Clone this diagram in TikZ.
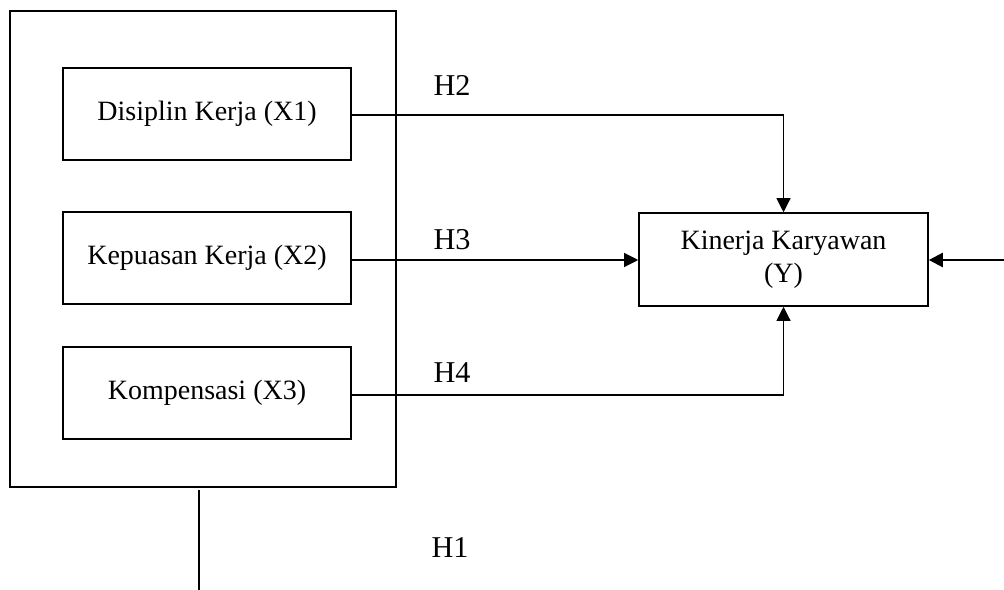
\documentclass[tikz,border=0pt]{standalone}
\usepackage{fontspec}
\setmainfont{Liberation Serif}
\usetikzlibrary{arrows.meta}

\def\px{0.025cm}
\tikzset{
  varbox/.style={draw, line width=1.1pt, minimum width=288*\px, minimum height=92*\px,
    inner sep=0pt, font=\fontsize{19.9}{24}\selectfont},
  hlabel/.style={font=\fontsize{21.5}{26}\selectfont, inner sep=0pt},
  link/.style={line width=0.8pt, -{Triangle[length=10pt,width=10pt]}}
}

\begin{document}
\begin{tikzpicture}[x=\px, y=-\px]
\useasboundingbox (0,0) rectangle (1004,590);

% independent variables
\node[draw, line width=1.9pt, minimum width=386*\px, minimum height=476*\px] (outer) at (203,249) {};
\node[varbox] (x1) at (207,114) {Disiplin Kerja (X1)};
\node[varbox] (x2) at (207,258) {Kepuasan Kerja (X2)};
\node[varbox] (x3) at (207,393) {Kompensasi (X3)};

% dependent variable
\node[varbox, minimum width=289*\px, minimum height=93*\px, align=center,
  font=\fontsize{19.9}{23.5}\selectfont] (y) at (783.5,259.5)
  {Kinerja Karyawan\\(Y)};

% hypotheses
\draw[link] (x1.east |- 0,115) -| (y.north);
\draw[link] (x2.east |- 0,260) -- (y.west |- 0,260);
\draw[link] (x3.east |- 0,395) -| (y.south);

\coordinate (rin) at (1004,260);
\draw[line width=1.6pt, -{Triangle[length=10pt,width=10pt]}] (rin) -- (y.east |- rin);

\coordinate (h1top) at (199,490);
\coordinate (h1end) at (199,590);
\draw[line width=1.9pt] (h1top) -- (h1end);

\node[hlabel] (h2) at (452,85) {H2};
\node[hlabel] (h3) at (452,240) {H3};
\node[hlabel] (h4) at (452,373) {H4};
\node[hlabel] (h1) at (450,548) {H1};

\end{tikzpicture}
\end{document}
